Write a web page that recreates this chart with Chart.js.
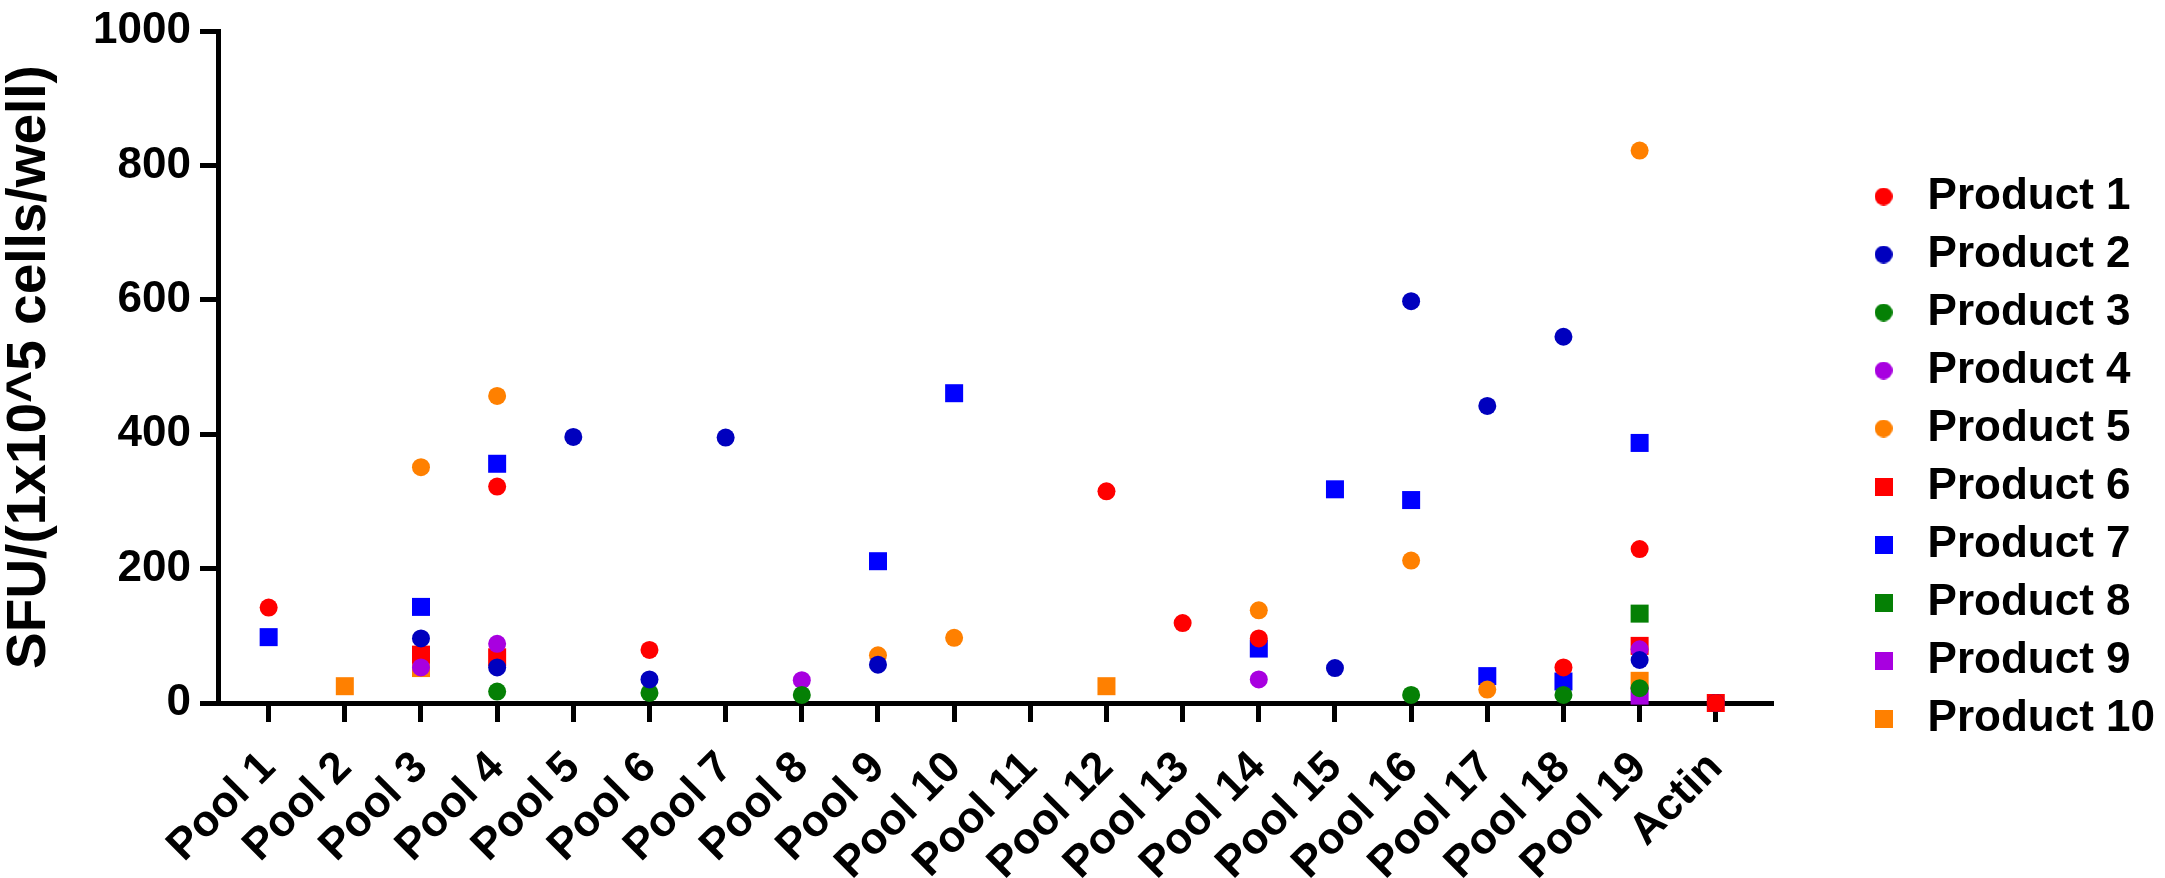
<!DOCTYPE html>
<html>
<head>
<meta charset="utf-8">
<script src="https://cdn.jsdelivr.net/npm/chart.js@4.4.1/dist/chart.umd.min.js"></script>
<style>
html, body { margin: 0; padding: 0; background: #fff; }
#wrap { width: 2165px; height: 878px; }
</style>
</head>
<body>
<div id="wrap"><canvas id="spotChart" width="2165" height="878"></canvas></div>
<script>
// categories on the x axis
const categories = ['Pool 1', 'Pool 2', 'Pool 3', 'Pool 4', 'Pool 5', 'Pool 6', 'Pool 7', 'Pool 8', 'Pool 9', 'Pool 10',
	'Pool 11', 'Pool 12', 'Pool 13', 'Pool 14', 'Pool 15', 'Pool 16', 'Pool 17', 'Pool 18', 'Pool 19', 'Actin'];
const yTicks = [0, 200, 400, 600, 800, 1000];

// SFU per pool, null = no point
const product1  = [142, null, null, 322, null, 79, null, null, null, null, null, 315, 119, 96, null, null, null, 53, 229, 0];
const product2  = [null, null, 96, 53, 396, 35, 395, null, 57, null, null, null, null, null, 52, 598, 442, 545, 64, 0];
const product3  = [null, null, null, 17, null, 15, null, 12, null, null, null, null, null, null, null, 12, null, 12, 22, null];
const product4  = [null, null, 53, 88, null, null, null, 34, null, null, null, null, null, 35, null, null, null, null, 80, null];
const product5  = [null, null, 351, 457, null, null, null, null, 71, 97, null, null, null, 138, null, 212, 20, null, 822, null];
const product6  = [null, null, 72, 68, null, null, null, null, null, null, null, null, null, null, null, null, null, null, 85, 0];
const product7  = [98, null, 143, 356, null, null, null, null, 211, 461, null, null, null, 81, 318, 302, 40, 32, 387, null];
const product8  = [null, null, null, null, null, null, null, null, null, null, null, null, null, null, null, null, null, null, 133, null];
const product9  = [null, null, null, null, null, null, null, null, null, null, null, null, null, null, null, null, null, null, 11, null];
const product10 = [null, 25, 52, null, null, null, null, null, null, null, null, 25, null, null, null, null, null, null, 33, null];

const productNames  = ['Product 1', 'Product 2', 'Product 3', 'Product 4', 'Product 5', 'Product 6', 'Product 7', 'Product 8', 'Product 9', 'Product 10'];
const productValues = [product1, product2, product3, product4, product5, product6, product7, product8, product9, product10];
const productColors = ['#FF0000', '#0000BE', '#058005', '#A800E0', '#FF8000', '#FF0000', '#0000FF', '#058005', '#A800E0', '#FF8000'];
const productShapes = ['circle', 'circle', 'circle', 'circle', 'circle', 'rect', 'rect', 'rect', 'rect', 'rect'];

Chart.defaults.font.family = '"Liberation Sans", Arial, sans-serif';
Chart.defaults.font.weight = 'bold';
Chart.defaults.color = '#000';

// 범례용 마커 (원/사각형 같은 크기)
const makeMarker = (shape, color) => {
	const c = document.createElement('canvas');
	c.width = 18; c.height = 18;
	const g = c.getContext('2d');
	g.fillStyle = color;
	if (shape === 'circle') {
		g.beginPath(); g.arc(9, 9, 9, 0, Math.PI * 2); g.fill();
	} else {
		g.fillRect(0, 0, 18, 18);
	}
	return c;
};
const markers = productShapes.map((s, i) => makeMarker(s, productColors[i]));

const datasets = productValues.map((vals, i) => ({
	label: productNames[i],
	data: vals.map((v, k) => v === null ? null : { x: k, y: v }).filter(p => p),
	pointStyle: productShapes[i],
	pointRadius: productShapes[i] === 'rect' ? 12.73 : 9,
	pointHoverRadius: productShapes[i] === 'rect' ? 12.73 : 9,
	backgroundColor: productColors[i],
	borderWidth: 0,
	clip: false
}));

new Chart(document.getElementById('spotChart'), {
	type: 'scatter',
	data: { datasets: datasets },
	options: {
		responsive: false,
		devicePixelRatio: 1,
		animation: false,
		layout: { padding: { top: 23, right: 0, bottom: 0, left: 0 } },
		plugins: {
			tooltip: { enabled: false },
			legend: {
				position: 'right',
				title: { display: true, text: '', font: { size: 10, lineHeight: 1.4 }, padding: 0 },
				labels: {
					usePointStyle: true,
					pointStyleWidth: 44,
					padding: 14,
					color: '#000',
					font: { size: 44, weight: 'bold' },
					generateLabels: (chart) => chart.data.datasets.map((ds, i) => ({
						text: ds.label,
						pointStyle: markers[i],
						fillStyle: ds.backgroundColor,
						strokeStyle: ds.backgroundColor,
						lineWidth: 0,
						hidden: false,
						datasetIndex: i
					}))
				}
			}
		},
		scales: {
			x: {
				type: 'linear',
				min: -0.665,
				max: 19.725,
				afterBuildTicks: (s) => { s.ticks = categories.map((c, i) => ({ value: i })); },
				afterFit: (s) => { s.height = 175; },
				grid: { drawOnChartArea: false, color: '#000', lineWidth: 5, tickLength: 19 },
				border: { color: '#000', width: 5 },
				ticks: {
					autoSkip: false,
					minRotation: 45,
					maxRotation: 45,
					padding: 20,
					color: '#000',
					font: { size: 44, weight: 'bold' },
					callback: (v) => categories[v] ?? ''
				}
			},
			y: {
				min: 0,
				max: 1000,
				afterBuildTicks: (s) => { s.ticks = yTicks.map(v => ({ value: v })); },
				afterFit: (s) => { s.width = 218; },
				grid: { drawOnChartArea: false, color: '#000', lineWidth: 5, tickLength: 18 },
				border: { color: '#000', width: 5 },
				ticks: {
					padding: 9,
					color: '#000',
					font: { size: 44, weight: 'bold', lineHeight: 1 },
					callback: (v) => String(v)
				},
				title: {
					display: true,
					text: 'SFU/(1x10^5 cells/well)',
					color: '#000',
					font: { size: 55, weight: 'bold', lineHeight: 1.1 },
					padding: 0
				}
			},
			gap: {
				position: 'right',
				display: true,
				grid: { display: false, drawTicks: false },
				border: { display: false },
				ticks: { display: false },
				afterFit: (s) => { s.width = 76.6; }
			}
		}
	}
});
</script>
</body>
</html>
